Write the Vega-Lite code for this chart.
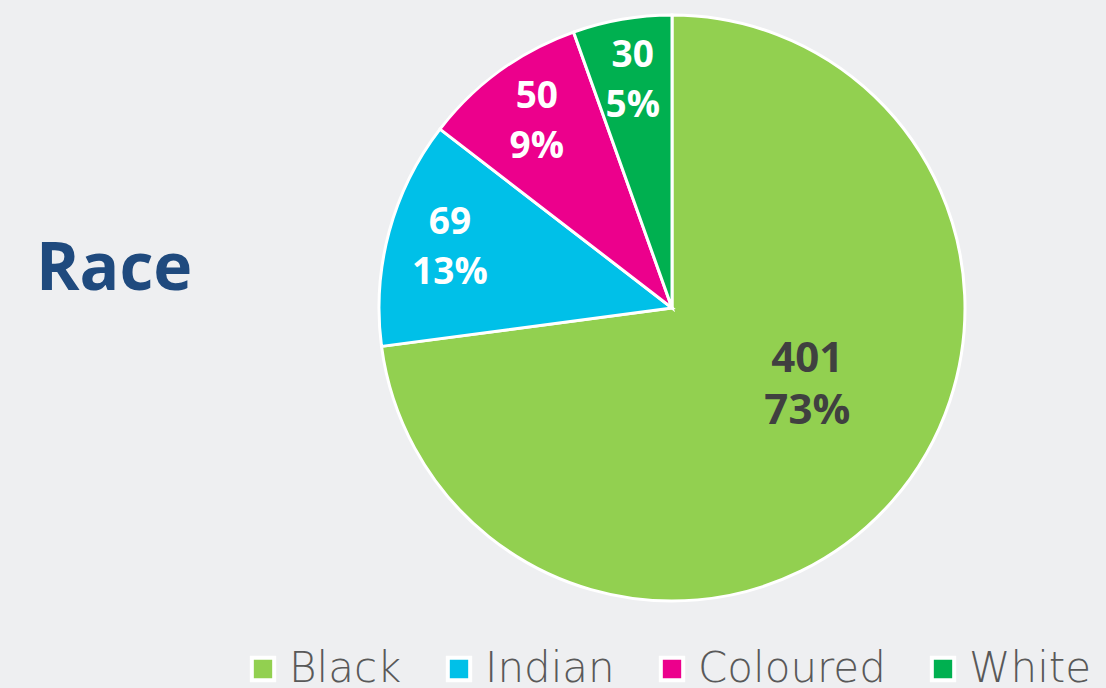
{
  "$schema": "https://vega.github.io/schema/vega-lite/v6.json",
  "autosize": {"type": "none"},
  "width": 600,
  "height": 600,
  "padding": {"left": 372, "top": 8, "right": 134, "bottom": 80},
  "background": "#eeeff1",
  "config": {"view": {"stroke": null}},
  "title": {
    "text": "Race",
    "orient": "top",
    "anchor": "start",
    "frame": "group",
    "align": "left",
    "baseline": "alphabetic",
    "offset": 0,
    "dx": -336,
    "dy": 348,
    "font": "Open Sans",
    "fontSize": 66,
    "fontWeight": "bold",
    "color": "#1f4a7e"
  },
  "data": {
    "values": [
      {"race": "Black", "count": 401, "pct": "73%", "idx": 1},
      {"race": "Indian", "count": 69, "pct": "13%", "idx": 2},
      {"race": "Coloured", "count": 50, "pct": "9%", "idx": 3},
      {"race": "White", "count": 30, "pct": "5%", "idx": 4}
    ]
  },
  "encoding": {
    "theta": {"field": "count", "type": "quantitative", "stack": true},
    "order": {"field": "idx", "type": "quantitative"}
  },
  "layer": [
    {
      "mark": {"type": "arc", "outerRadius": 293, "stroke": "white", "strokeWidth": 3},
      "encoding": {
        "color": {
          "field": "race",
          "type": "nominal",
          "scale": {
            "domain": ["Black", "Indian", "Coloured", "White"],
            "range": ["#92d050", "#00c0e8", "#ec008c", "#00b050"]
          },
          "legend": {
            "title": null,
            "orient": "none",
            "direction": "horizontal",
            "legendX": -130,
            "legendY": 640,
            "symbolType": "square",
            "symbolSize": 500,
            "symbolStrokeColor": "white",
            "symbolStrokeWidth": 4,
            "symbolOpacity": 1,
            "labelFont": "DejaVu Sans",
            "labelFontWeight": 200,
            "labelFontSize": 42,
            "labelColor": "#595959",
            "labelOffset": 5,
            "labelLimit": 400,
            "columnPadding": 36
          }
        }
      }
    },
    {
      "mark": {"type": "text", "radius": 230, "dy": -25, "font": "Open Sans", "fontSize": 37, "fontWeight": "bold", "baseline": "middle", "color": "white"},
      "encoding": {
        "text": {"condition": {"test": "datum.race === 'Black'", "value": ""}, "field": "count", "type": "quantitative"}
      }
    },
    {
      "mark": {"type": "text", "radius": 230, "dy": 25, "font": "Open Sans", "fontSize": 37, "fontWeight": "bold", "baseline": "middle", "color": "white"},
      "encoding": {
        "text": {"condition": {"test": "datum.race === 'Black'", "value": ""}, "field": "pct", "type": "nominal"}
      }
    },
    {
      "mark": {"type": "text", "radius": 156, "dx": 18, "dy": -52, "font": "Open Sans", "fontSize": 42, "fontWeight": "bold", "baseline": "middle", "color": "#404040"},
      "encoding": {
        "text": {"condition": {"test": "datum.race !== 'Black'", "value": ""}, "field": "count", "type": "quantitative"}
      }
    },
    {
      "mark": {"type": "text", "radius": 156, "dx": 18, "dy": 0, "font": "Open Sans", "fontSize": 42, "fontWeight": "bold", "baseline": "middle", "color": "#404040"},
      "encoding": {
        "text": {"condition": {"test": "datum.race !== 'Black'", "value": ""}, "field": "pct", "type": "nominal"}
      }
    }
  ]
}
